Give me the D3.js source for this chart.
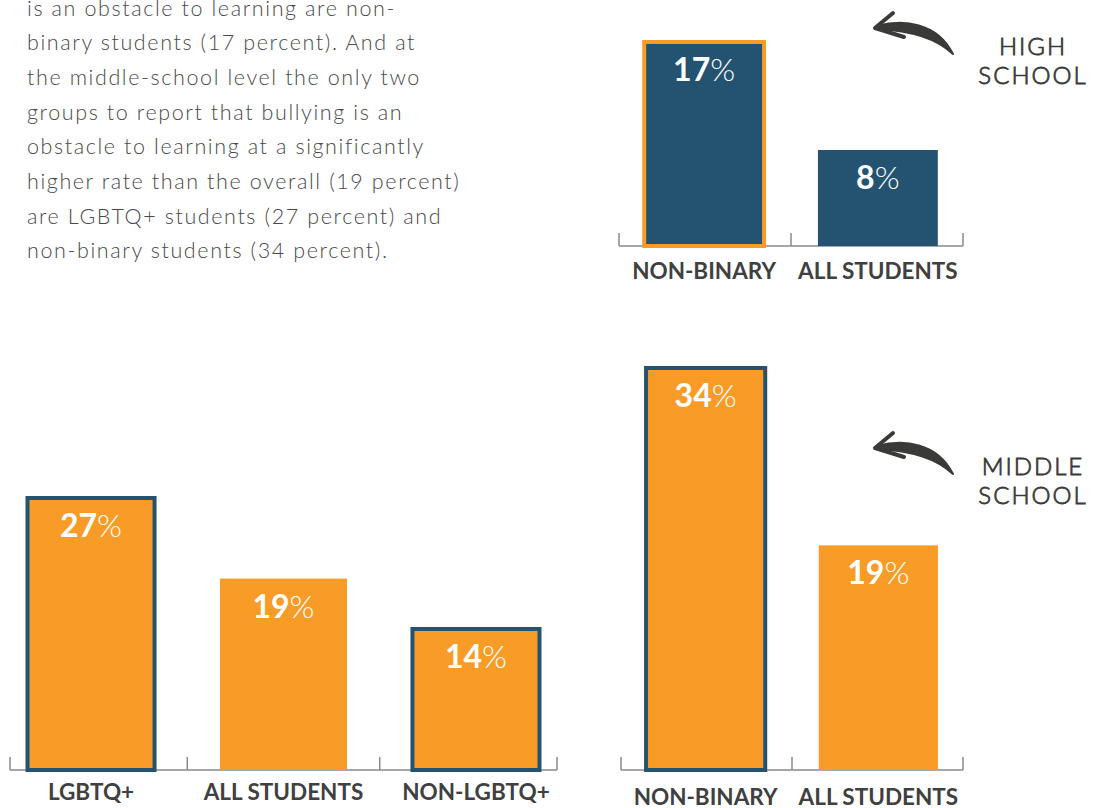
<!DOCTYPE html>
<html>
<head>
<meta charset="utf-8">
<script src="https://cdn.jsdelivr.net/npm/d3@7"></script>
<style>
  html, body { margin: 0; padding: 0; background: #fff; }
  svg { display: block; }
</style>
</head>
<body>
<script>
// data
var bodyLines = [
  "is an obstacle to learning are non-",
  "binary students (17 percent). And at",
  "the middle-school level the only two",
  "groups to report that bullying is an",
  "obstacle to learning at a significantly",
  "higher rate than the overall (19 percent)",
  "are LGBTQ+ students (27 percent) and",
  "non-binary students (34 percent)."
];

var hsCategories = ["NON-BINARY", "ALL STUDENTS"];
var hsValues = [17, 8];
var hsHighlight = [true, false];

var msGroupCategories = ["LGBTQ+", "ALL STUDENTS", "NON-LGBTQ+"];
var msGroupValues = [27, 19, 14];
var msGroupHighlight = [true, false, true];

var msBinaryCategories = ["NON-BINARY", "ALL STUDENTS"];
var msBinaryValues = [34, 19];
var msBinaryHighlight = [true, false];

var noteLabels = [["HIGH", "SCHOOL"], ["MIDDLE", "SCHOOL"]];

var navy = "#245371";
var orange = "#f89c27";
var axisGray = "#8a8a8a";
var labelGray = "#404040";
var inkGray = "#3a3a38";

function init(){
	var w = 1096;
	var h = 808;

	var svg = d3.select("body")
		.append("svg")
		.attr("width", w)
		.attr("height", h);

	// paragraph
	svg.append("g")
		.selectAll("text")
		.data(bodyLines)
		.enter()
		.append("text")
		.attr("x", 27)
		.attr("y", function(d, i){ return 15.5 + i * 34.7; })
		.style("font-family", "Lato, sans-serif")
		.style("font-weight", 300)
		.style("font-size", "21.5px")
		.style("letter-spacing", "1.6px")
		.style("fill", "#4a4a4a")
		.text(function(d){ return d; });

	function barChart(opt){
		var xScale = d3.scaleBand()
			.domain(d3.range(opt.cats.length))
			.range(opt.xRange)
			.paddingInner(opt.pi)
			.paddingOuter(opt.po);

		var yScale = d3.scaleLinear()
			.domain([0, opt.max])
			.range([opt.base, opt.top]);

		var g = svg.append("g");

		// baseline and ticks between bands
		g.append("line")
			.attr("x1", opt.xRange[0])
			.attr("x2", opt.xRange[1])
			.attr("y1", opt.base)
			.attr("y2", opt.base)
			.attr("stroke", axisGray)
			.attr("stroke-width", 1.5);

		var tickX = [opt.xRange[0]];
		for (var i = 1; i < opt.cats.length; i++) {
			tickX.push((xScale(i - 1) + xScale.bandwidth() + xScale(i)) / 2);
		}
		tickX.push(opt.xRange[1]);

		g.selectAll(".tick")
			.data(tickX)
			.enter()
			.append("line")
			.attr("x1", function(d){ return d; })
			.attr("x2", function(d){ return d; })
			.attr("y1", opt.base)
			.attr("y2", opt.base - 13)
			.attr("stroke", axisGray)
			.attr("stroke-width", 1.5);

		g.selectAll("rect")
			.data(opt.values)
			.enter()
			.append("rect")
			.attr("x", function(d, i){ return xScale(i); })
			.attr("y", function(d){ return yScale(d); })
			.attr("width", xScale.bandwidth())
			.attr("height", function(d){ return opt.base - yScale(d); })
			.attr("fill", opt.fill)
			.attr("stroke", function(d, i){ return opt.hl[i] ? opt.stroke : "none"; })
			.attr("stroke-width", 4);

		var val = g.selectAll(".val")
			.data(opt.values)
			.enter()
			.append("text")
			.attr("x", function(d, i){ return xScale(i) + xScale.bandwidth() / 2; })
			.attr("y", function(d){ return yScale(d) + 39; })
			.attr("text-anchor", "middle")
			.style("font-family", "Lato, sans-serif")
			.style("font-size", "32px")
			.style("fill", "#fff");
		val.append("tspan")
			.style("font-weight", 700)
			.text(function(d){ return d; });
		val.append("tspan")
			.style("font-weight", 300)
			.text("%");

		g.selectAll(".cat")
			.data(opt.cats)
			.enter()
			.append("text")
			.attr("x", function(d, i){ return xScale(i) + xScale.bandwidth() / 2; })
			.attr("y", opt.base + opt.labelOffset)
			.attr("text-anchor", "middle")
			.style("font-family", "Lato, sans-serif")
			.style("font-weight", 700)
			.style("font-size", "22.5px")
			.style("fill", labelGray)
			.text(function(d){ return d; });
	}

	barChart({cats: hsCategories, values: hsValues, hl: hsHighlight,
		xRange: [619, 963], pi: 0.31, po: 0.145, base: 246, top: 6, max: 20,
		fill: navy, stroke: orange, labelOffset: 33});

	barChart({cats: msGroupCategories, values: msGroupValues, hl: msGroupHighlight,
		xRange: [10, 557], pi: 0.34, po: 0.091, base: 770, top: 498, max: 27,
		fill: orange, stroke: navy, labelOffset: 30});

	barChart({cats: msBinaryCategories, values: msBinaryValues, hl: msBinaryHighlight,
		xRange: [621, 963], pi: 0.31, po: 0.145, base: 770, top: 368, max: 34,
		fill: orange, stroke: navy, labelOffset: 35});

	// hand drawn notes
	var noteY = [0, 420];
	noteY.forEach(function(dy, k){
		var n = svg.append("g").attr("transform", "translate(0," + dy + ")");
		n.append("path")
			.attr("d", "M877,26 C903,19 937,22 953,54 C936,38 912,31 877,29 Z")
			.attr("fill", inkGray)
			.attr("stroke", inkGray)
			.attr("stroke-width", 2)
			.attr("stroke-linejoin", "round");
		n.append("path")
			.attr("d", "M893,13 L875,28 L904,37")
			.attr("fill", "none")
			.attr("stroke", inkGray)
			.attr("stroke-width", 4)
			.attr("stroke-linecap", "round")
			.attr("stroke-linejoin", "round");
		n.selectAll("text")
			.data(noteLabels[k])
			.enter()
			.append("text")
			.attr("x", 1033)
			.attr("y", function(d, i){ return 55 + i * 29; })
			.attr("text-anchor", "middle")
			.style("font-family", "Lato, sans-serif")
			.style("font-weight", 300)
			.style("font-size", "24px")
			.style("letter-spacing", "2px")
			.style("fill", inkGray)
			.style("stroke", inkGray)
			.style("stroke-width", 0.8)
			.text(function(d){ return d; });
	});
}

window.onload = init;
</script>
</body>
</html>
